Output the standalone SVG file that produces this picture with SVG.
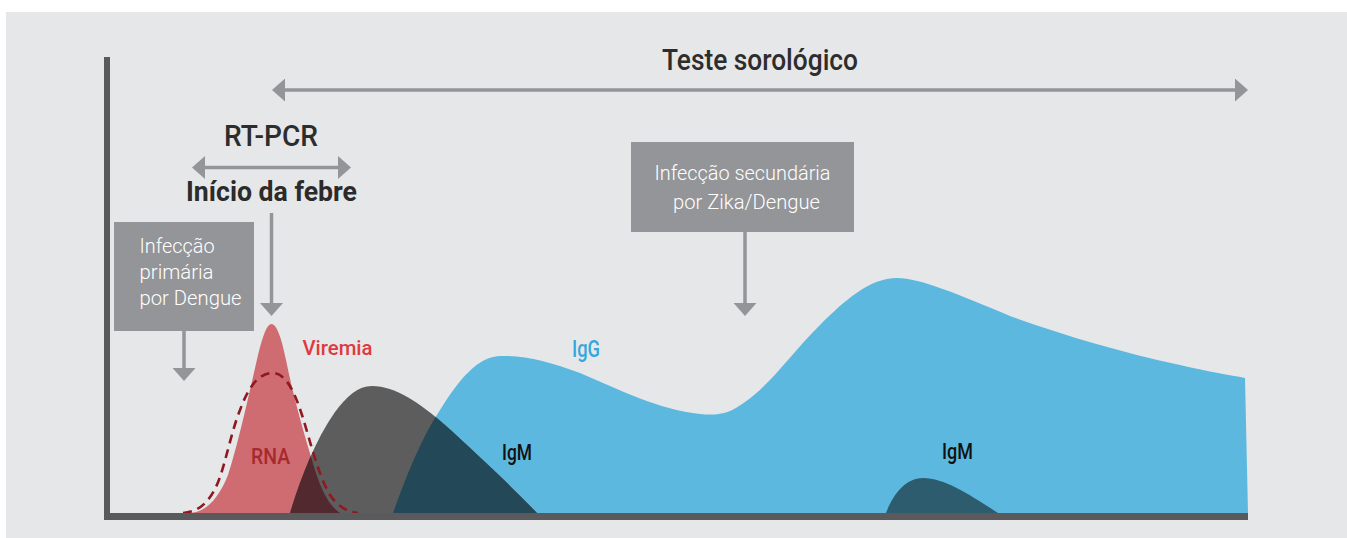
<svg xmlns="http://www.w3.org/2000/svg" width="1347" height="538" viewBox="0 0 1347 538">
  <style>
    text { font-family: Roboto, "Liberation Sans", sans-serif; }
    .title { font-size: 30px; font-weight: 500; fill: #2d2d2d; }
    .head { font-size: 29px; font-weight: 500; fill: #2d2d2d; }
    .headb { font-size: 28px; font-weight: 700; fill: #2b2b2b; }
    .box { fill: #939598; }
    .boxt { font-size: 20px; font-weight: 300; fill: #ffffff; }
    .boxt2 { font-size: 21px; font-weight: 300; fill: #ffffff; }
    .lbl { font-size: 22px; font-weight: 500; }
    .arrow { stroke: #939598; stroke-width: 3.5; fill: none; }
    .axis { fill: #5a5a5c; }
  </style>
  <defs>
    <marker id="ah" viewBox="0 0 13 23" refX="1" refY="11.5" markerWidth="13" markerHeight="23" markerUnits="userSpaceOnUse" orient="auto-start-reverse">
      <path d="M0 0 L13 11.5 L0 23 Z" fill="#939598"/>
    </marker>
    <path id="grayShape" d="M290 513 C300 480, 315 440, 335 412 C347 396, 358 386, 372 386 C395 386, 420 403, 445 425 C475 452, 510 485, 537 513 Z"/>
    <clipPath id="clipGray">
      <use href="#grayShape"/>
    </clipPath>
    <path id="redShape" d="M190 513 C208 512, 220 495, 228 475 C238 445, 250 390, 258 355 C263 335, 267 324, 271.5 324 C276 324, 281 335, 286 360 C293 395, 303 430, 312 460 C320 488, 328 505, 340 513 Z"/>
    <path id="blueShape" d="M393 513 C405 480, 420 440, 440 410 C460 378, 478 357, 500 356 C525 355, 550 362, 580 373 C620 390, 660 410, 700 414 C720 416, 730 413, 745 402 C770 385, 790 355, 820 325 C845 300, 870 278, 897 278 C920 278, 960 295, 1010 316 C1060 334, 1120 352, 1180 365 C1210 372, 1230 375, 1245 378 L1248 513 Z"/>
  </defs>

  <rect x="0" y="0" width="1347" height="538" fill="#ffffff"/>
  <rect x="6" y="12" width="1341" height="526" fill="#e6e7e8"/>

  <g id="curves">
    <use id="viremia-curve" href="#redShape" fill="#cf6c71"/>
    <use id="igg-curve" href="#blueShape" fill="#5cb8de"/>
    <use id="igm-curve" href="#grayShape" fill="#5d5d5d"/>
    <use href="#redShape" fill="#52292e" clip-path="url(#clipGray)"/>
    <use href="#blueShape" fill="#234958" clip-path="url(#clipGray)"/>
    <path id="igm2-curve" d="M886 513 C893 495, 905 478, 923 478 C945 478, 970 495, 998 513 Z" fill="#2e5c6f"/>
    <path id="rna-curve" d="M183 513 C200 512, 212 500, 220 477 C226 460, 232 430, 240 410 C248 388, 258 373, 273 373 C286 373, 295 393, 302 415 C310 440, 318 475, 330 495 C338 507, 348 512, 358 513" fill="none" stroke="#8e1a20" stroke-width="2.6" stroke-dasharray="9 6"/>
  </g>

  <g id="axes">
    <rect class="axis" x="104" y="57" width="6" height="463"/>
    <rect class="axis" x="104" y="513" width="1144" height="7"/>
  </g>

  <g id="connectors">
    <line class="arrow" x1="284" y1="90" x2="1236" y2="90" marker-start="url(#ah)" marker-end="url(#ah)"/>
    <line class="arrow" x1="204" y1="167.5" x2="339" y2="167.5" marker-start="url(#ah)" marker-end="url(#ah)"/>
    <line class="arrow" x1="271.5" y1="213" x2="271.5" y2="304" marker-end="url(#ah)"/>
    <line class="arrow" x1="184" y1="331" x2="184" y2="369" marker-end="url(#ah)"/>
    <line class="arrow" x1="745" y1="232" x2="745" y2="304" marker-end="url(#ah)"/>
  </g>

  <g id="teste-sorologico">
    <text class="title" x="760" y="70" text-anchor="middle" textLength="196" lengthAdjust="spacingAndGlyphs">Teste sorológico</text>
  </g>
  <g id="rt-pcr">
    <text class="head" x="271" y="146" text-anchor="middle" textLength="94" lengthAdjust="spacingAndGlyphs">RT-PCR</text>
  </g>
  <g id="inicio-febre">
    <text class="headb" x="271.5" y="200.5" text-anchor="middle" textLength="171" lengthAdjust="spacingAndGlyphs">Início da febre</text>
  </g>
  <g id="infeccao-primaria">
    <rect class="box" x="114" y="222" width="140" height="109"/>
    <text class="boxt" x="139.5" y="253" textLength="75" lengthAdjust="spacingAndGlyphs">Infecção</text>
    <text class="boxt" x="139.5" y="278.5" textLength="74" lengthAdjust="spacingAndGlyphs">primária</text>
    <text class="boxt" x="139.5" y="305" textLength="102" lengthAdjust="spacingAndGlyphs">por Dengue</text>
  </g>
  <g id="infeccao-secundaria">
    <rect class="box" x="631" y="142" width="223" height="90"/>
    <text class="boxt2" x="742.5" y="180" text-anchor="middle" textLength="176" lengthAdjust="spacingAndGlyphs">Infecção secundária</text>
    <text class="boxt2" x="746.5" y="208.5" text-anchor="middle" textLength="147" lengthAdjust="spacingAndGlyphs">por Zika/Dengue</text>
  </g>

  <g id="labels">
    <text class="lbl" x="302.5" y="355" fill="#df3a3f" style="font-size:21px" textLength="70" lengthAdjust="spacingAndGlyphs">Viremia</text>
    <text class="lbl" x="251" y="463.5" fill="#a8292d" textLength="39" lengthAdjust="spacingAndGlyphs">RNA</text>
    <text class="lbl" x="572" y="357" fill="#35a7de" style="font-size:23px" textLength="28" lengthAdjust="spacingAndGlyphs">IgG</text>
    <text class="lbl" x="502" y="460" fill="#111111" textLength="30" lengthAdjust="spacingAndGlyphs">IgM</text>
    <text class="lbl" x="942" y="459" fill="#111111" textLength="31" lengthAdjust="spacingAndGlyphs">IgM</text>
  </g>
</svg>
